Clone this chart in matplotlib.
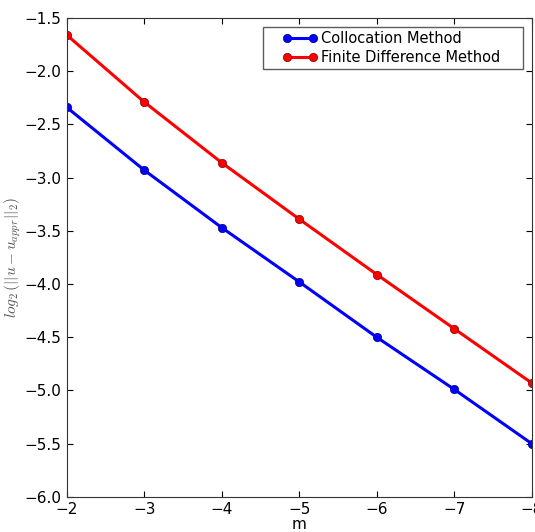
import matplotlib
matplotlib.use("Agg")
import matplotlib.pyplot as plt
import numpy as np
from matplotlib.legend_handler import HandlerLine2D

plt.rcParams["mathtext.fontset"] = "cm"

m = [-2, -3, -4, -5, -6, -7, -8]
collocation = [-2.34, -2.93, -3.47, -3.98, -4.50, -4.99, -5.50]
finite_diff = [-1.66, -2.29, -2.86, -3.39, -3.91, -4.42, -4.93]
xticks = [-2, -3, -4, -5, -6, -7, -8]
yticks = [-6.0, -5.5, -5.0, -4.5, -4.0, -3.5, -3.0, -2.5, -2.0, -1.5]


class InsetHandler(HandlerLine2D):
    def get_xdata(self, legend, xdescent, ydescent, width, height, fontsize):
        x0 = -xdescent + width * 0.42
        x1 = -xdescent + width - 0.12 * fontsize
        xd = np.array([x0, x1])
        return xd, xd


fig = plt.figure(figsize=(5.35, 5.32), dpi=100)
ax = fig.add_axes([0.125, 0.066, 0.869, 0.900])

l1, = ax.plot(m, collocation, color="#0000ff", lw=2.2, marker="o", ms=6,
              mec="#000080", mew=0.5, label="Collocation Method")
l2, = ax.plot(m, finite_diff, color="#ff0000", lw=2.2, marker="o", ms=6,
              mec="#800000", mew=0.5, label="Finite Difference Method")

ax.set_xlim(-2, -8)
ax.set_ylim(-6.0, -1.5)
ax.set_xticks(xticks)
ax.set_yticks(yticks)
ax.set_yticklabels([f"{v:.1f}".replace("-", "\u2212") for v in yticks])
ax.tick_params(direction="in", top=True, right=True, labelsize=11, length=4, pad=4)
for s in ax.spines.values():
    s.set_color("#333333")
ax.set_xlabel("m", fontsize=11, labelpad=0)
ax.set_ylabel(r"$log_2\,(||u - u_{appr}||_2)$", fontsize=11, color="#555555", labelpad=1)

leg = ax.legend(loc="upper right", fontsize=10.5, numpoints=2, fancybox=False,
                handlelength=3.3, handletextpad=0.4, borderpad=0.25, labelspacing=0.3,
                borderaxespad=0.0, mode="expand",
                bbox_to_anchor=(0.422, 0.0, 0.559, 0.981),
                handler_map={l1: InsetHandler(), l2: InsetHandler()})
leg.get_frame().set_edgecolor("#333333")

fig.savefig("out.png", dpi=100)
